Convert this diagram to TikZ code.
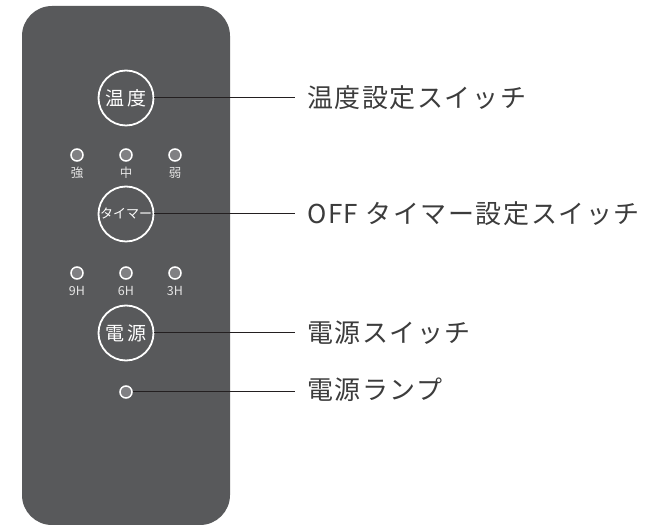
\documentclass[tikz,border=0pt]{standalone}
\usepackage{fontspec}
\setmainfont{Noto Sans CJK JP}
\newfontfamily\cjk{Noto Sans CJK JP}
\newfontfamily\cjkwide[LetterSpace=6]{Noto Sans CJK JP}
\definecolor{panel}{HTML}{58595B}
\definecolor{ledfill}{HTML}{808083}
\definecolor{txt}{HTML}{3C3C3C}
\definecolor{lead}{HTML}{231F20}
\begin{document}
\begin{tikzpicture}[x=1pt,y=-1pt,
  btn/.style={circle,draw=white,line width=1.8pt,minimum size=55pt,inner sep=0pt,text=white,font=\cjk\fontsize{19}{19}\selectfont},
  led/.style={circle,draw=white,fill=ledfill,line width=1.5pt,minimum size=12pt,inner sep=0pt},
  ledlab/.style={text=white!90!black,font=\cjk\fontsize{12.5}{12.5}\selectfont,inner sep=0pt},
  callout/.style={anchor=west,text=txt,inner sep=0pt,font=\cjkwide\fontsize{26}{26}\selectfont},
  leader/.style={draw=lead,line width=1pt}]
\useasboundingbox (0,0) rectangle (657,526);
\fill[panel,rounded corners=30pt] (22,6) rectangle (230,525);
% buttons
\node[btn] (temp) at (126,98) {温\hspace{4pt}度};
\node[btn,font=\cjk\fontsize{13}{13}\selectfont] (timer) at (126,214) {タイマー};
\node[btn] (power) at (126,333) {電\hspace{4pt}源};
% LEDs row 1
\node[led] (l1) at (77,155) {};
\node[led] (l2) at (126,155) {};
\node[led] (l3) at (175,155) {};
\node[ledlab] (t1) at (77,173) {強};
\node[ledlab] (t2) at (126,173) {中};
\node[ledlab] (t3) at (175,173) {弱};
% LEDs row 2
\node[led] (m1) at (77,273) {};
\node[led] (m2) at (126,273) {};
\node[led] (m3) at (175,273) {};
\node[ledlab] (u1) at (77,291) {9H};
\node[ledlab] (u2) at (126,291) {6H};
\node[ledlab] (u3) at (175,291) {3H};
% power lamp
\node[led] (lamp) at (126,392) {};
% callouts
\coordinate (c1) at (295,98);
\coordinate (c2) at (295,214);
\coordinate (c3) at (295,333);
\coordinate (c4) at (295,392);
\node[callout] (k1) at (307,98) {温度設定スイッチ};
\node[callout] (k2) at (307,214) {OFF タイマー設定スイッチ};
\node[callout] (k3) at (307,333) {電源スイッチ};
\node[callout] (k4) at (307,390) {電源ランプ};
\draw[leader] (temp.east) -- (c1);
\draw[leader] (timer.east) -- (c2);
\draw[leader] (power.east) -- (c3);
\draw[leader] (lamp.east) -- (c4);
\end{tikzpicture}
\end{document}
